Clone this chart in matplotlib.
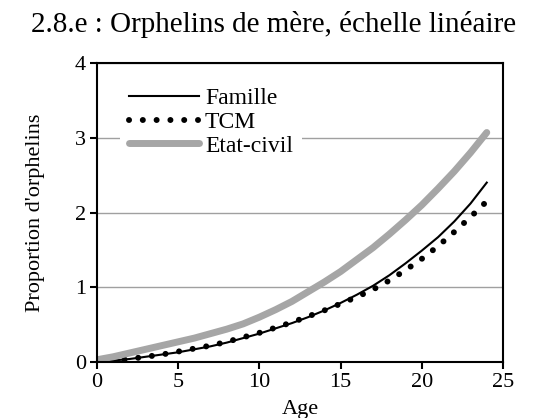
import matplotlib.pyplot as plt

plt.rcParams["font.family"] = ["Liberation Serif", "DejaVu Serif"]

# Données
ages = list(range(0, 25))
famille = [0.00, 0.02, 0.04, 0.07, 0.10, 0.13, 0.17, 0.21, 0.26, 0.32, 0.38,
           0.45, 0.52, 0.60, 0.69, 0.79, 0.90, 1.02, 1.16, 1.32, 1.49, 1.67,
           1.88, 2.12, 2.40]
tcm = [0.00, 0.02, 0.04, 0.07, 0.10, 0.14, 0.18, 0.22, 0.27, 0.33, 0.39,
       0.46, 0.53, 0.61, 0.69, 0.78, 0.87, 0.97, 1.09, 1.23, 1.38, 1.55,
       1.74, 1.94, 2.15]
etat_civil = [0.03, 0.07, 0.12, 0.17, 0.22, 0.27, 0.32, 0.38, 0.44, 0.51,
              0.60, 0.70, 0.81, 0.94, 1.07, 1.21, 1.37, 1.53, 1.71, 1.90,
              2.10, 2.32, 2.55, 2.80, 3.07]

fig = plt.figure(figsize=(5.47, 4.18), dpi=100)
ax = fig.add_axes([97 / 547, 1 - 362 / 418, 406 / 547, 299 / 418])

ax.plot(ages, famille, color="black", lw=1.5, label="Famille")
ax.plot(ages, tcm, color="black", lw=4.3, linestyle=(0, (0.01, 2.3)),
        dash_capstyle="round", label="TCM")
ax.plot(ages, etat_civil, color="#a6a6a6", lw=5, solid_capstyle="round",
        label="Etat-civil")

ax.set_xlim(0, 25)
ax.set_ylim(0, 4)
ax.set_xticks([0, 5, 10, 15, 20, 25])
ax.set_yticks([0, 1, 2, 3, 4])
ax.yaxis.grid(True, color="#a0a0a0", lw=1)
ax.set_axisbelow(True)
for s in ax.spines.values():
    s.set_linewidth(1.5)
ax.tick_params(direction="out", length=5, width=1.5, labelsize=16, pad=3)

ax.set_xlabel("Age", fontsize=16)
ax.xaxis.set_label_coords(0.5, (362 - 400) / 299)
ax.set_ylabel("Proportion d'orphelins", fontsize=16)
ax.yaxis.set_label_coords((45 - 97) / 406, 0.5)

fig.text(0.5, 1 - 32 / 418, "2.8.e : Orphelins de mère, échelle linéaire",
         fontsize=21, ha="center", va="baseline")

leg = ax.legend(loc="upper left", bbox_to_anchor=(23 / 406, (362 - 78) / 299),
                frameon=True, fontsize=17, handlelength=2.95,
                handletextpad=0.25, labelspacing=0.1, borderpad=0.4,
                borderaxespad=0)
leg.get_frame().set_edgecolor("none")
leg.get_frame().set_facecolor("white")
leg.get_frame().set_alpha(1)
leg.get_frame().set_boxstyle("square", pad=0)

fig.savefig("out.png", dpi=100)
